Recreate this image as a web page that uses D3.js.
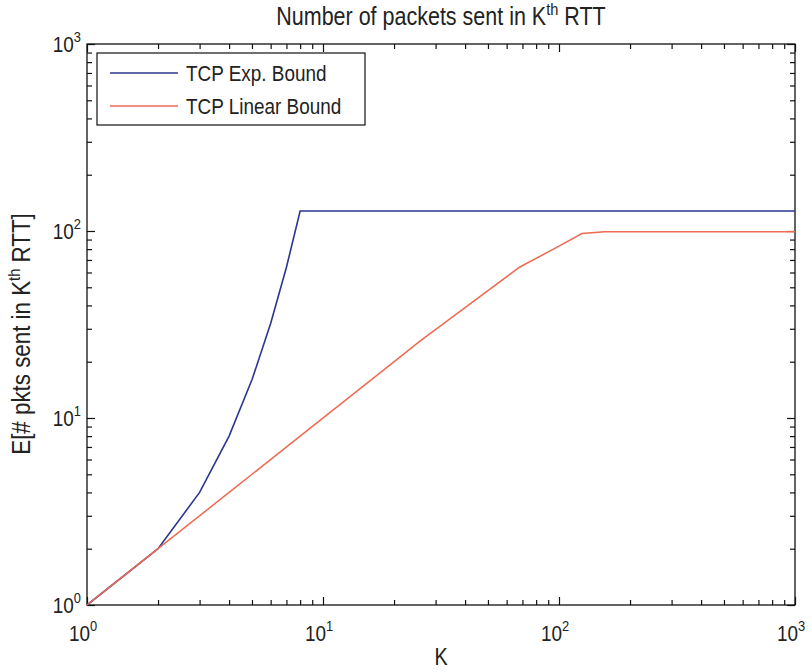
<!DOCTYPE html>
<html>
<head>
<meta charset="utf-8">
<script src="https://cdn.jsdelivr.net/npm/d3@7"></script>
<style>
  html, body { margin: 0; padding: 0; background: #fff; }
  svg text { font-family: "Liberation Sans", Arial, sans-serif; fill: #222; }
</style>
</head>
<body>
<svg id="chart" width="812" height="672"></svg>
<script>
// Round index K and expected packets per round for each bound
const expK = [1, 2, 3, 4, 5, 6, 7, 8, 1000];
const expPkts = [1, 2, 4, 8, 16, 32, 64, 128, 128];
const linK = [1, 2, 4, 8, 16, 26, 50, 68, 100, 125, 156, 1000];
const linPkts = [1, 2, 4, 8, 16, 26, 48, 64, 83, 97, 99, 99];
const decades = [1, 10, 100, 1000];
const exponents = ["0", "1", "2", "3"];
const seriesNames = ["TCP Exp. Bound", "TCP Linear Bound"];
const seriesColors = ["#2b3690", "#ee6a52"];

const svg = d3.select("#chart");
const L = 87, R = 795, T = 44, B = 605;
const NARROW = 0.86; // horizontal squeeze for the narrow label face

const x = d3.scaleLog().domain([1, 1000]).range([L, R]);
const y = d3.scaleLog().domain([1, 1000]).range([B, T]);

// minor ticks: 2..9 within each decade
const minor = [];
decades.slice(0, 3).forEach(d => { for (let m = 2; m <= 9; m++) minor.push(d * m); });

function tickAxis(axisFn, scale, values, size, tx, ty) {
  const g = svg.append("g")
    .attr("transform", `translate(${tx},${ty})`)
    .call(axisFn(scale).tickValues(values).tickSize(size).tickFormat(""));
  g.selectAll(".domain").remove();
  g.selectAll(".tick line").attr("stroke", "#111").attr("stroke-width", 1.2);
  return g;
}

// inward ticks on all four sides
tickAxis(d3.axisBottom, x, minor, -5, 0, B);
tickAxis(d3.axisBottom, x, decades, -8, 0, B);
tickAxis(d3.axisTop, x, minor, -5, 0, T);
tickAxis(d3.axisTop, x, decades, -8, 0, T);
tickAxis(d3.axisLeft, y, minor, -5, L, 0);
tickAxis(d3.axisLeft, y, decades, -8, L, 0);
tickAxis(d3.axisRight, y, minor, -5, R, 0);
tickAxis(d3.axisRight, y, decades, -8, R, 0);

// plot frame
svg.append("rect")
  .attr("x", L).attr("y", T).attr("width", R - L).attr("height", B - T)
  .attr("fill", "none").attr("stroke", "#111").attr("stroke-width", 1.3);

// text placed at (px,py), optionally rotated, squeezed horizontally
function narrowText(px, py, size, anchor, rot) {
  return svg.append("text")
    .attr("transform", `translate(${px},${py})` + (rot ? ` rotate(${rot})` : "") + ` scale(${NARROW},1)`)
    .attr("text-anchor", anchor).attr("font-size", size);
}

// power-of-ten tick labels
function powLabel(sel, exp) {
  sel.append("tspan").text("10");
  sel.append("tspan").attr("dy", -10).attr("font-size", 15).text(exp);
}
decades.forEach((d, i) => {
  narrowText(x(d) - 4, B + 36, 22, "middle").call(powLabel, exponents[i]);
  narrowText(L - 6, y(d) + 8, 22, "end").call(powLabel, exponents[i]);
});

// data lines
const line = d3.line().x(d => x(d[0])).y(d => y(d[1]));
const expData = expK.map((k, i) => [k, expPkts[i]]);
const linData = linK.map((k, i) => [k, linPkts[i]]);

svg.append("path").datum(expData)
  .attr("d", line).attr("fill", "none")
  .attr("stroke", seriesColors[0]).attr("stroke-width", 1.6);
svg.append("path").datum(linData)
  .attr("d", line).attr("fill", "none")
  .attr("stroke", seriesColors[1]).attr("stroke-width", 1.5);

// title
const title = narrowText(441, 25, 25, "middle");
title.append("tspan").text("Number of packets sent in K");
title.append("tspan").attr("dy", -10).attr("font-size", 17).text("th");
title.append("tspan").attr("dy", 10).text(" RTT");

// axis titles
narrowText(441, 665, 23, "middle").text("K");

const yl = narrowText(30, 334, 26, "middle", -90);
yl.append("tspan").text("E[# pkts sent in K");
yl.append("tspan").attr("dy", -10).attr("font-size", 17).text("th");
yl.append("tspan").attr("dy", 10).text(" RTT]");

// legend
const lg = svg.append("g");
lg.append("rect")
  .attr("x", 97).attr("y", 53).attr("width", 268).attr("height", 72)
  .attr("fill", "#fff").attr("stroke", "#111").attr("stroke-width", 1.2);
seriesNames.forEach((name, i) => {
  const yy = 73 + i * 33;
  lg.append("line")
    .attr("x1", 110).attr("x2", 178).attr("y1", yy).attr("y2", yy)
    .attr("stroke", seriesColors[i]).attr("stroke-width", 1.6);
  narrowText(186, yy + 8, 22, "start").text(name);
});
</script>
</body>
</html>
